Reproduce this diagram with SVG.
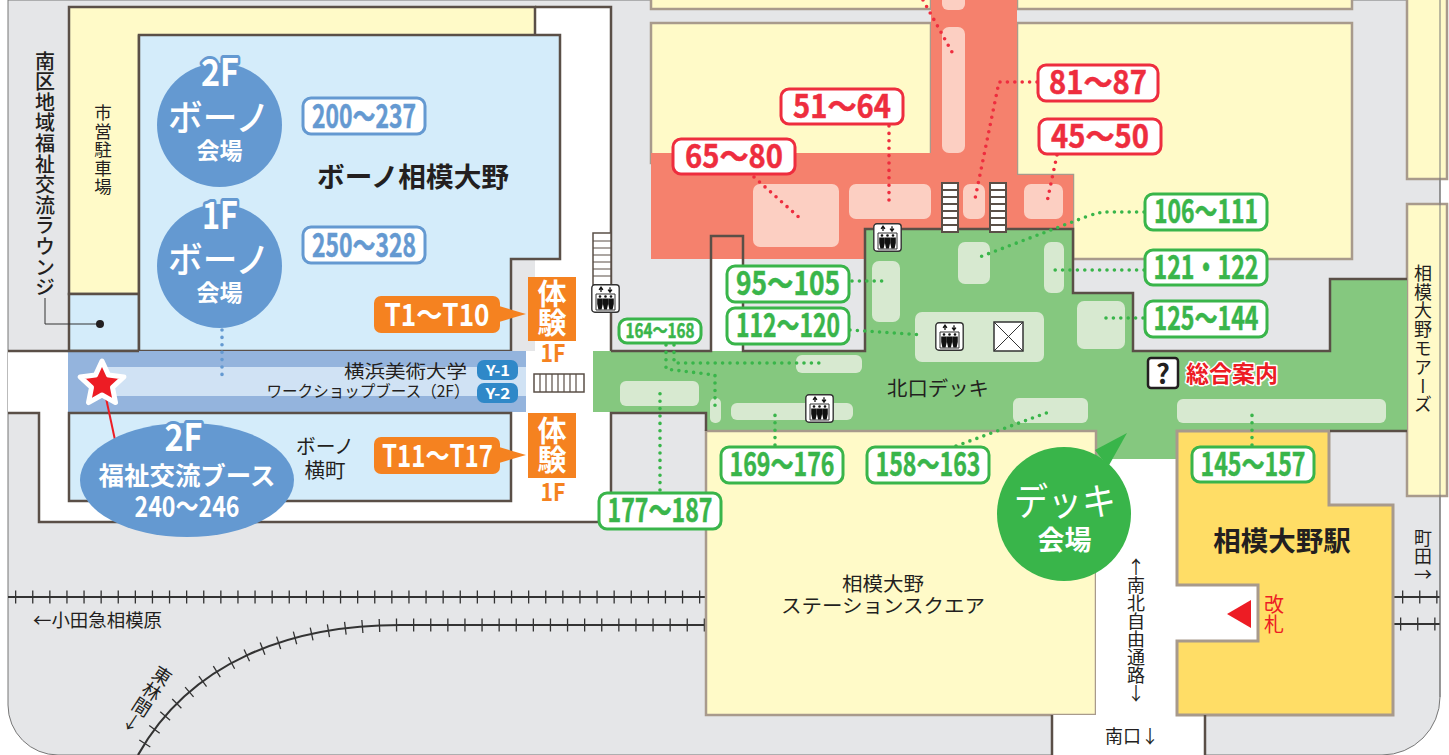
<svg xmlns="http://www.w3.org/2000/svg" xmlns:xlink="http://www.w3.org/1999/xlink" width="1449" height="755" viewBox="0 0 1449 755">
<style>
text{font-family:"Noto Sans CJK JP","Noto Sans",sans-serif;fill:#231f20}
.v{writing-mode:vertical-rl;text-anchor:start}
.up{text-orientation:upright}
.c{text-anchor:middle}
.b{font-weight:700}
.wall{fill:none;stroke:#5a4f47;stroke-width:2.5}
.by{fill:#fffac8;stroke:#a89a8c;stroke-width:2.5}
.bl{fill:#d4ecfa;stroke:#5a4f47;stroke-width:2.5}
.lg{fill:#d7e9d0}
.pk{fill:#fccfc2}
.box{fill:#fff;stroke-width:3}
.rb{stroke:#ee2d3e}.gb{stroke:#39b54a}.bb{stroke:#6499d1}
.lb{font-weight:700;font-size:32px;text-anchor:middle;stroke-width:.5}
.rt{fill:#ee2d3e;stroke:#ee2d3e}.gt{fill:#39b54a;stroke:#39b54a}.bt{fill:#6499d1;stroke:#6499d1}
.w{fill:#fff;font-weight:700;text-anchor:middle}
.m{font-weight:500}
.o{fill:#f58220;font-weight:700;text-anchor:middle}
.tab{paint-order:stroke;stroke:#6499d1;stroke-width:6;stroke-linejoin:round}
.dot{fill:none;stroke-width:3.6;stroke-linecap:round;stroke-dasharray:0 7.4}
.dr{stroke:#ee2d3e}.dg{stroke:#39b54a}.db{stroke:#6499d1}
.rail{fill:none;stroke:#333;stroke-width:2.2}
.tie{fill:none;stroke:#333;stroke-width:13;stroke-dasharray:1.3 15.8}
</style>
<defs>
<g id="elev">
<rect x="0.8" y="0.8" width="27.4" height="27.4" rx="3" fill="#fff" stroke="#333" stroke-width="1.4"/>
<path d="M5 10H24V26H5Z" fill="none" stroke="#333" stroke-width="1"/>
<path d="M10 8V4M8.100 5.800L10 3.200L11.900 5.800M19 3.200V7.200M17.100 5.600L19 8.200L20.900 5.600" fill="none" stroke="#111" stroke-width="1.300"/>
<g fill="#111">
<circle cx="9" cy="12.500" r="1.300"/><path d="M6.200 14.500H11.800V20L10.600 25.500H7.400L6.200 20Z"/>
<circle cx="14.500" cy="12.500" r="1.300"/><path d="M11.900 14.500H17.100V20L15.900 25.500H13.100L11.900 20Z"/>
<circle cx="20" cy="12.500" r="1.300"/><path d="M17.200 14.500H22.800V20L21.600 25.500H18.400L17.200 20Z"/>
</g>
</g>
<g id="stair">
<rect x="0" y="0" width="18" height="51" fill="#5a4f47"/>
<line x1="9" y1="2" x2="9" y2="50" stroke="#fff" stroke-width="14" stroke-dasharray="5 2"/>
</g>
</defs>

<g id="ground">
<rect width="1449" height="755" fill="#fff"/>
<path d="M8 0V705A50 50 0 0 0 58 755H1382A58 58 0 0 0 1440 697V0Z" fill="#e5e6e8" stroke="#777" stroke-width="1"/>
<path d="M535 7H611V351H593V412H611V522H39V413H8V351H535Z" fill="#fff"/>
<path d="M711 236H743V351H711Z" fill="#fff"/>
</g>

<g id="rails">
<path class="rail" d="M8 597H705"/><path class="tie" d="M15 597H705"/>
<path class="rail" d="M705 625H400C290 625 190 662 138 755"/><path class="tie" d="M705 625H400C290 625 190 662 138 755"/>
<path class="rail" d="M1393 597H1440"/><path class="tie" d="M1402 597H1440"/>
<path class="rail" d="M1393 624H1440"/><path class="tie" d="M1400 624H1440"/>
</g>

<g id="buildings">
<path d="M69 7H535V36H139V294H69Z" fill="#fffac8" stroke="#5a4f47" stroke-width="2.500"/>
<path class="bl" d="M69 294H139V351H69Z"/>
<path class="bl" d="M139 35H560V259H511V351H139Z"/>
<rect x="68" y="351" width="458" height="61" fill="#94b4dd"/>
<rect x="102" y="367" width="424" height="29" fill="#d0e2f4"/>
<rect class="bl" x="69" y="413" width="442" height="88"/>
<rect class="by" x="651" y="-5" width="280" height="14"/>
<rect class="by" x="1017" y="-5" width="335" height="14"/>
<rect class="by" x="651" y="23" width="280" height="140"/>
<path class="by" d="M1017 23H1352V259H1073V175H1017Z"/>
<rect class="by" x="1407" y="-5" width="40" height="184"/>
<rect class="by" x="1407" y="204" width="40" height="292"/>
<path d="M651 153H931V-2H1017V175H1073V259H651Z" fill="#f5816d"/>
<path d="M593 351H865V229H1073V293H1133V351H1330V279H1407V431H1177V459H1096V431H706V412H593Z" fill="#85c87f"/>
<rect class="by" x="706" y="431" width="390" height="284"/>
<path d="M1096 459H1177V585H1258V641H1177V715H1205V755H1052V715H1096Z" fill="#fff"/>
<path d="M1177 431H1329V505H1393V715H1177V641H1258V585H1177Z" fill="#ffdd66" stroke="#a89a8c" stroke-width="3"/>
<path d="M1440 0V697" stroke="#777" fill="none" stroke-width="1"/>
<path class="wall" d="M535 7H611V351M8 351H139M8 413H39V522H611V413H706V431M611 351H711V236H743V351H865V229H1073V293H1133V351H1330V279H1407M1330 431H1407M1052 715V755M1205 715V755"/>
<g class="pk">
<rect x="753" y="184" width="86" height="63" rx="7"/>
<rect x="849" y="184" width="82" height="35" rx="7"/>
<rect x="963" y="184" width="22" height="35" rx="7"/>
<rect x="1024" y="184" width="39" height="35" rx="7"/>
<rect x="942" y="27" width="23" height="126" rx="7"/>
<rect x="942" y="-8" width="23" height="18" rx="6"/>
</g>
<g class="lg">
<rect x="872" y="261" width="28" height="61" rx="7"/>
<rect x="958" y="242" width="32" height="42" rx="7"/>
<rect x="1044" y="242" width="20" height="51" rx="7"/>
<rect x="915" y="312" width="129" height="50" rx="7"/>
<rect x="1077" y="301" width="48" height="48" rx="7"/>
<rect x="796" y="355" width="66" height="18" rx="6"/>
<rect x="620" y="381" width="79" height="25" rx="6"/>
<rect x="710" y="398" width="11" height="25" rx="5"/>
<rect x="731" y="403" width="122" height="17" rx="6"/>
<rect x="1013" y="398" width="75" height="25" rx="6"/>
<rect x="1177" y="399" width="209" height="24" rx="6"/>
</g>
<use xlink:href="#stair" href="#stair" x="941" y="182"/>
<use xlink:href="#stair" href="#stair" x="989" y="182"/>
<rect x="593" y="233" width="18" height="52" fill="#fff" stroke="#5a4f47" stroke-width="1.5"/>
<path d="M593 241H611M593 248H611M593 255H611M593 262H611M593 269H611M593 276H611" stroke="#5a4f47" stroke-width="1.2"/>
<rect x="534" y="374" width="50" height="18" fill="#fff" stroke="#5a4f47" stroke-width="1.5"/>
<path d="M540 374V392M546 374V392M552 374V392M558 374V392M564 374V392M570 374V392M576 374V392" stroke="#5a4f47" stroke-width="1.2"/>
<path d="M1227 614L1251 600V628Z" fill="#ed1c24"/>
</g>

<g id="connectors">
<path class="dot dr" d="M923 0L952 52"/>
<path class="dot dr" d="M754 177L803 221"/>
<path class="dot dr" d="M889 126V202"/>
<path class="dot dr" d="M1037 82H999L975 199"/>
<path class="dot dr" d="M1057 155L1047 202"/>
<path class="dot dg" d="M852 281H889"/>
<path class="dot dg" d="M850 330L923 335"/>
<path class="dot dg" d="M1144 212H1107Q1100 212 1088 216L977 258"/>
<path class="dot dg" d="M1144 270H1053"/>
<path class="dot dg" d="M1143 318H1100"/>
<path class="dot dg" d="M1252 445V409"/>
<path class="dot dg" d="M666 345V369L715 375V407"/>
<path class="dot dg" d="M674 345V363H820"/>
<path class="dot dg" d="M775 445V409"/>
<path class="dot dg" d="M956 446L1049 412"/>
<path class="dot dg" d="M660 490V393"/>
<path class="dot db" d="M222 330V375"/>
<path d="M45 298V324H100" fill="none" stroke="#333" stroke-width="1"/>
<circle cx="100" cy="324" r="4" fill="#231f20"/>
<path d="M106 398L115 440" fill="none" stroke="#ed1c24" stroke-width="2"/>
</g>

<g id="icons">
<use xlink:href="#elev" href="#elev" x="591" y="284"/>
<use xlink:href="#elev" href="#elev" x="873" y="223"/>
<use xlink:href="#elev" href="#elev" x="935" y="322"/>
<use xlink:href="#elev" href="#elev" x="805" y="394"/>
<g id="void"><rect x="994" y="322" width="29" height="29" fill="#fff" stroke="#333" stroke-width="1.5"/><path d="M994 322L1023 351M1023 322L994 351" stroke="#333" stroke-width="1"/></g>
<g id="info"><rect x="1148" y="358" width="30" height="30" rx="3" fill="#fff" stroke="#231f20" stroke-width="2.5"/><text class="c b" x="1163" y="384" font-size="27">?</text></g>
</g>

<g id="node-map-labels">
<text class="v m" x="45" y="51" font-size="20" letter-spacing=".6">南区地域福祉交流ラウンジ</text>
<text class="v" x="103" y="104" font-size="17.5" letter-spacing="1">市営駐車場</text>
<text class="c b" x="413" y="187" font-size="27" textLength="192" lengthAdjust="spacingAndGlyphs">ボーノ相模大野</text>
<text class="c" x="405.500" y="378" font-size="18" textLength="123" lengthAdjust="spacingAndGlyphs">横浜美術大学</text>
<text class="c" x="368" y="397" font-size="16" textLength="203" lengthAdjust="spacingAndGlyphs">ワークショップブース（2F）</text>
<text class="c" x="325" y="454" font-size="20" textLength="58" lengthAdjust="spacingAndGlyphs">ボーノ</text>
<text class="c" x="325" y="478" font-size="20" textLength="41" lengthAdjust="spacingAndGlyphs">横町</text>
<text x="33" y="627" font-size="18" textLength="129" lengthAdjust="spacingAndGlyphs">←小田急相模原</text>
<text class="v up" font-size="18.500" transform="translate(167 668) rotate(33)">東林間↓</text>
<text class="c" x="938" y="396" font-size="20" textLength="102" lengthAdjust="spacingAndGlyphs">北口デッキ</text>
<text class="c" x="883" y="591" font-size="19" textLength="82" lengthAdjust="spacingAndGlyphs">相模大野</text>
<text class="c" x="883" y="613" font-size="19" textLength="204" lengthAdjust="spacingAndGlyphs">ステーションスクエア</text>
<text class="v" x="1423" y="264" font-size="18" letter-spacing=".8">相模大野モアーズ</text>
<text class="v up" x="1423" y="529" font-size="18">町田→</text>
<text class="v up" x="1136" y="558" font-size="18">↑南北自由通路↓</text>
<text x="1105" y="743" font-size="18">南口↓</text>
<text class="c b" x="1282" y="551" font-size="27.500">相模大野駅</text>
<text class="v" x="1274" y="594" font-size="20" style="fill:#ed1c24">改札</text>
<text class="b" x="1186" y="382" font-size="23" style="fill:#ed1c24;paint-order:stroke;stroke:#fff;stroke-width:3;stroke-linejoin:round">総合案内</text>
</g>

<g id="star-marker"><polygon points="102,361 108.500,375.100 123.900,376.900 112.500,387.400 115.500,402.600 102,395 88.500,402.600 91.500,387.400 80.100,376.900 95.500,375.100" fill="#ed1c24" stroke="#fff" stroke-width="5" stroke-linejoin="round"/></g>

<g id="node-bono-2f">
<ellipse cx="219.500" cy="125" rx="62.500" ry="62" fill="#6499d1"/>
<text class="w tab" x="220" y="86" font-size="38" textLength="38" lengthAdjust="spacingAndGlyphs">2F</text>
<text class="w" x="219" y="131" font-size="36" style="font-weight:500" textLength="102" lengthAdjust="spacingAndGlyphs">ボーノ</text>
<text class="w" x="219.500" y="159" font-size="23">会場</text>
</g>
<g id="node-bono-1f">
<ellipse cx="219.500" cy="266" rx="62.500" ry="62" fill="#6499d1"/>
<text class="w tab" x="220" y="229" font-size="38" textLength="36" lengthAdjust="spacingAndGlyphs">1F</text>
<text class="w" x="219" y="273" font-size="36" style="font-weight:500" textLength="102" lengthAdjust="spacingAndGlyphs">ボーノ</text>
<text class="w" x="219.500" y="301" font-size="23">会場</text>
</g>
<g id="node-fukushi">
<ellipse cx="187" cy="480" rx="107" ry="57" fill="#6499d1"/>
<text class="w tab" x="183.500" y="451" font-size="38" textLength="38" lengthAdjust="spacingAndGlyphs">2F</text>
<text class="w" x="187" y="485" font-size="25" textLength="177" lengthAdjust="spacingAndGlyphs">福祉交流ブース</text>
<text class="w" x="187" y="517" font-size="28" textLength="105" lengthAdjust="spacingAndGlyphs">240〜246</text>
</g>
<g id="node-deck">
<path d="M1095 450L1127 433L1108 467Z" fill="#39b54a"/>
<circle cx="1064" cy="514" r="67" fill="#39b54a"/>
<text class="w" x="1065" y="515" font-size="38" style="font-weight:400" textLength="102" lengthAdjust="spacingAndGlyphs">デッキ</text>
<text class="w" x="1064.500" y="550" font-size="27">会場</text>
</g>
<g id="node-t1">
<rect x="374" y="296" width="126" height="37" rx="7" fill="#f58220"/>
<text class="w" x="437" y="326" font-size="31" textLength="105" lengthAdjust="spacingAndGlyphs">T1〜T10</text>
<path d="M499 306L526 314L499 322Z" fill="#f58220"/>
<rect x="528" y="277" width="48" height="64" fill="#f58220"/>
<text class="v w" x="552" y="279" font-size="29" style="text-anchor:start">体験</text>
<text class="o" x="553" y="362" font-size="24" textLength="25" lengthAdjust="spacingAndGlyphs">1F</text>
</g>
<g id="node-t11">
<rect x="374" y="437" width="126" height="37" rx="7" fill="#f58220"/>
<path d="M499 447L526 455L499 463Z" fill="#f58220"/>
<text class="w" x="437.500" y="467" font-size="31" textLength="111" lengthAdjust="spacingAndGlyphs">T11〜T17</text>
<rect x="528" y="413" width="48" height="65" fill="#f58220"/>
<text class="v w" x="552" y="416" font-size="29" style="text-anchor:start">体験</text>
<text class="o" x="553" y="501" font-size="24" textLength="25" lengthAdjust="spacingAndGlyphs">1F</text>
</g>
<g id="node-y1"><rect x="477" y="360" width="41" height="20" rx="7" fill="#2f88c8"/><text class="w" x="498" y="376" font-size="15" textLength="24" lengthAdjust="spacingAndGlyphs">Y-1</text></g>
<g id="node-y2"><rect x="477" y="383" width="41" height="20" rx="7" fill="#2f88c8"/><text class="w" x="498" y="399" font-size="15" textLength="25" lengthAdjust="spacingAndGlyphs">Y-2</text></g>

<g id="node-200"><rect class="box bb" x="303" y="98" width="122" height="36" rx="8"/><text class="lb bt" x="364" y="128" textLength="104" lengthAdjust="spacingAndGlyphs">200〜237</text></g>
<g id="node-250"><rect class="box bb" x="303" y="227" width="122" height="36" rx="8"/><text class="lb bt" x="364" y="257" textLength="104" lengthAdjust="spacingAndGlyphs">250〜328</text></g>

<g id="node-65"><rect class="box rb" x="673" y="139" width="122" height="35" rx="8"/><text class="lb rt" x="734" y="168" textLength="98" lengthAdjust="spacingAndGlyphs">65〜80</text></g>
<g id="node-51"><rect class="box rb" x="781" y="89" width="122" height="35" rx="8"/><text class="lb rt" x="842" y="118" textLength="98" lengthAdjust="spacingAndGlyphs">51〜64</text></g>
<g id="node-81"><rect class="box rb" x="1038" y="65" width="120" height="36" rx="8"/><text class="lb rt" x="1098" y="94" textLength="98" lengthAdjust="spacingAndGlyphs">81〜87</text></g>
<g id="node-45"><rect class="box rb" x="1039" y="119" width="122" height="35" rx="8"/><text class="lb rt" x="1100" y="148" textLength="98" lengthAdjust="spacingAndGlyphs">45〜50</text></g>

<g id="node-95"><rect class="box gb" x="727" y="266" width="122" height="36" rx="8"/><text class="lb gt" x="788" y="295" textLength="104" lengthAdjust="spacingAndGlyphs">95〜105</text></g>
<g id="node-112"><rect class="box gb" x="727" y="308" width="122" height="36" rx="8"/><text class="lb gt" x="788" y="337" textLength="104" lengthAdjust="spacingAndGlyphs">112〜120</text></g>
<g id="node-106"><rect class="box gb" x="1145" y="194" width="122" height="36" rx="8"/><text class="lb gt" x="1206" y="223" textLength="104" lengthAdjust="spacingAndGlyphs">106〜111</text></g>
<g id="node-121"><rect class="box gb" x="1145" y="250" width="122" height="35" rx="8"/><text class="lb gt" x="1206" y="279" textLength="105" lengthAdjust="spacingAndGlyphs">121・122</text></g>
<g id="node-125"><rect class="box gb" x="1145" y="301" width="122" height="36" rx="8"/><text class="lb gt" x="1206" y="330" textLength="105" lengthAdjust="spacingAndGlyphs">125〜144</text></g>
<g id="node-145"><rect class="box gb" x="1192" y="447" width="122" height="35" rx="8"/><text class="lb gt" x="1253" y="476" textLength="105" lengthAdjust="spacingAndGlyphs">145〜157</text></g>
<g id="node-164"><rect class="box gb" x="619" y="319" width="82" height="24" rx="8"/><text class="lb gt" x="660" y="338" style="font-size:20px" textLength="69" lengthAdjust="spacingAndGlyphs">164〜168</text></g>
<g id="node-169"><rect class="box gb" x="721" y="447" width="122" height="36" rx="8"/><text class="lb gt" x="782" y="476" textLength="105" lengthAdjust="spacingAndGlyphs">169〜176</text></g>
<g id="node-158"><rect class="box gb" x="867" y="447" width="122" height="36" rx="8"/><text class="lb gt" x="928" y="476" textLength="105" lengthAdjust="spacingAndGlyphs">158〜163</text></g>
<g id="node-177"><rect class="box gb" x="599" y="493" width="122" height="36" rx="8"/><text class="lb gt" x="660" y="522" textLength="105" lengthAdjust="spacingAndGlyphs">177〜187</text></g>
</svg>
